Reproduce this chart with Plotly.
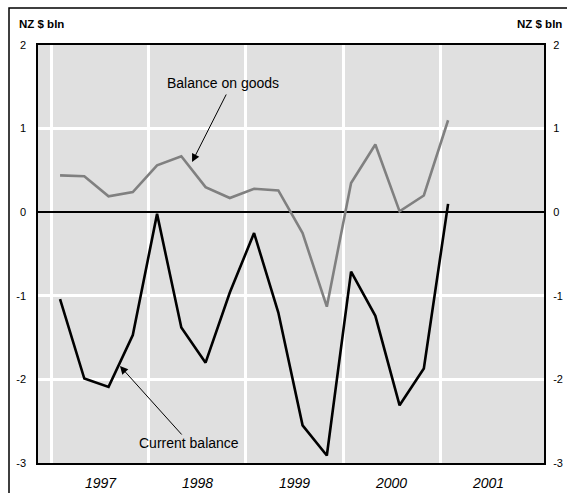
import plotly.graph_objects as go

# Quarterly data (NZ $ bln)
quarters = ["1997Q1", "1997Q2", "1997Q3", "1997Q4",
            "1998Q1", "1998Q2", "1998Q3", "1998Q4",
            "1999Q1", "1999Q2", "1999Q3", "1999Q4",
            "2000Q1", "2000Q2", "2000Q3", "2000Q4",
            "2001Q1"]
balance_on_goods = [0.44, 0.43, 0.19, 0.24, 0.56, 0.67, 0.30, 0.17,
                    0.28, 0.26, -0.25, -1.13, 0.35, 0.81, 0.01, 0.20, 1.10]
current_balance = [-1.04, -1.99, -2.09, -1.47, -0.02, -1.38, -1.80, -0.96,
                   -0.25, -1.20, -2.55, -2.91, -0.71, -1.24, -2.31, -1.87, 0.10]
year_labels = ["1997", "1998", "1999", "2000", "2001"]
y_ticks = [-3, -2, -1, 0, 1, 2]
y_tick_labels = ["-3", "-2", "-1", "0", "1", "2"]

# position of each quarter on a numeric year axis
def qpos(q):
    return int(q[:4]) + (int(q[5]) - 1) * 0.25 + 1 / 12

xs = [qpos(q) for q in quarters]
years = [int(y) for y in year_labels]

FONT = "Liberation Sans, Arial, sans-serif"

fig = go.Figure()
fig.add_trace(go.Scatter(x=xs, y=balance_on_goods, mode="lines",
                         line=dict(color="#808080", width=2.6), yaxis="y",
                         showlegend=False))
fig.add_trace(go.Scatter(x=xs, y=current_balance, mode="lines",
                         line=dict(color="#000000", width=2.6), yaxis="y",
                         showlegend=False))
# invisible trace for right axis
fig.add_trace(go.Scatter(x=[xs[0]], y=[0], mode="lines", yaxis="y2",
                         line=dict(width=0), showlegend=False, hoverinfo="skip"))

xr = [1996.856, 2002.072]
fig.update_layout(
    width=567, height=493,
    margin=dict(l=38, r=23, t=45, b=30),
    paper_bgcolor="white",
    plot_bgcolor="#e0e0e0",
    font=dict(family=FONT, color="black", size=11),
    xaxis=dict(range=xr, tickvals=[y + 0.5 for y in years], ticktext=year_labels,
               automargin=False,
               showgrid=False, zeroline=False, ticks="outside", ticklen=6,
               tickcolor="rgba(0,0,0,0)",
               tickfont=dict(size=14, family=FONT, style="italic"),
               showline=True, linecolor="black", linewidth=1.5, mirror=True,
               minor=dict(tickvals=years, showgrid=True, gridcolor="white",
                          gridwidth=3, ticks="")),
    yaxis=dict(range=[-3, 2], tickvals=y_ticks, ticktext=y_tick_labels,
               showgrid=True, automargin=False,
               gridcolor="white", gridwidth=3, zeroline=True,
               zerolinecolor="black", zerolinewidth=2,
               ticks="outside", ticklen=8, tickcolor="rgba(0,0,0,0)",
               showline=True, linecolor="black", linewidth=1.5, mirror=True,
               tickfont=dict(size=11)),
    yaxis2=dict(range=[-3, 2], tickvals=y_ticks, ticktext=y_tick_labels,
                overlaying="y", side="right", automargin=False,
                showgrid=False, zeroline=False, ticks="outside", ticklen=6,
                tickcolor="rgba(0,0,0,0)", tickfont=dict(size=11)),
)

# unit labels
fig.add_annotation(text="<b>NZ $ bln</b>", xref="paper", yref="paper",
                   x=-0.042, y=1.0, yshift=21, xanchor="left", yanchor="middle",
                   showarrow=False, font=dict(size=11.5))
fig.add_annotation(text="<b>NZ $ bln</b>", xref="paper", yref="paper",
                   x=1.0, xshift=20, y=1.0, yshift=21, xanchor="right",
                   yanchor="middle", showarrow=False, font=dict(size=11.5))

# arrows
fig.add_annotation(x=1998.444, y=0.60, ax=1998.804, ay=1.426,
                   xref="x", yref="y", axref="x", ayref="y", text="",
                   showarrow=True, arrowhead=2, arrowsize=1.6, arrowwidth=1,
                   arrowcolor="black")
fig.add_annotation(x=1998.763, y=1.545, text="Balance on goods", showarrow=False,
                   xref="x", yref="y", font=dict(size=14))
fig.add_annotation(x=1997.701, y=-1.84, ax=1998.351, ay=-2.677,
                   xref="x", yref="y", axref="x", ayref="y", text="",
                   showarrow=True, arrowhead=2, arrowsize=1.6, arrowwidth=1,
                   arrowcolor="black")
fig.add_annotation(x=1998.413, y=-2.76, text="Current balance", showarrow=False,
                   xref="x", yref="y", font=dict(size=14))

# outer frame (cropped at right and bottom)
fig.add_shape(type="rect", xref="paper", yref="paper",
              x0=-29 / 506, x1=1.2, y0=-0.2, y1=1 + 37 / 418,
              line=dict(color="black", width=1.5), layer="below")

post = (
    "document.documentElement.style.margin='0';"
    "document.documentElement.style.overflow='hidden';"
    "document.body.style.margin='0';"
    "document.body.style.overflow='hidden';"
)
fig.write_html("out.html", config={"displayModeBar": False}, post_script=post)
